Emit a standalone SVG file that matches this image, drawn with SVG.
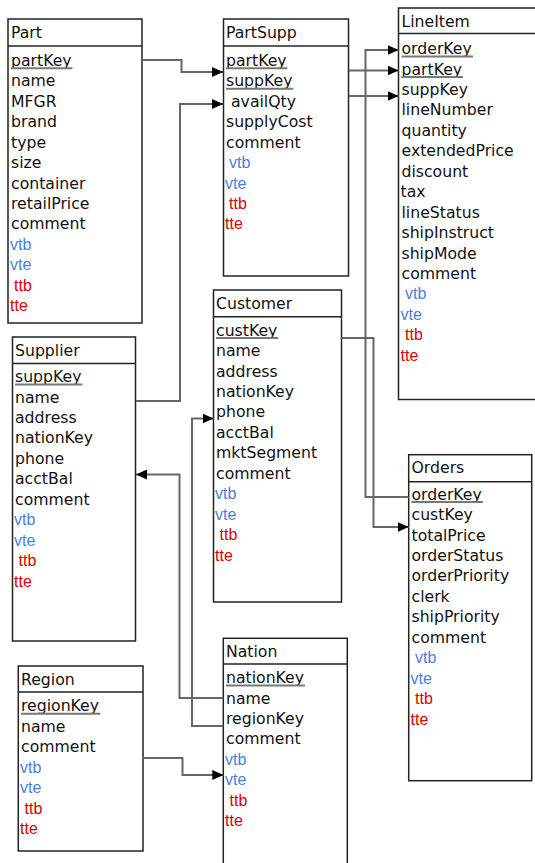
<svg xmlns="http://www.w3.org/2000/svg" width="535" height="863" viewBox="0 0 535 863">
<style>
.box{fill:#fff;stroke:#222;stroke-width:1.5}
.div{stroke:#222;stroke-width:1.5}
.t{font-family:"DejaVu Sans",Verdana,sans-serif;font-size:15.7px;fill:#111}
.b{font-family:"Liberation Sans",Arial,sans-serif;font-size:16px;fill:#4a7fdc}
.r{font-family:"Liberation Sans",Arial,sans-serif;font-size:16px;fill:#e00000}
.u{stroke:#777;stroke-width:2}
.c{fill:none;stroke:#666;stroke-width:2}
</style>
<defs>
<marker id="arr" viewBox="0 0 11 10" markerWidth="11" markerHeight="10" refX="11" refY="5" markerUnits="userSpaceOnUse" orient="auto">
<path d="M0,0 L11,5 L0,10 z" fill="#000"/>
</marker>
</defs>
<rect width="535" height="863" fill="#fff"/>

<g id="Part">
<rect class="box" x="8" y="19" width="134" height="304"/>
<line class="div" x1="8" y1="46" x2="142" y2="46"/>
<text class="t" x="11" y="38">Part</text>
<text class="t" x="11" y="65.8">partKey</text>
<line class="u" x1="11" y1="68.3" x2="72.4" y2="68.3"/>
<text class="t" x="11" y="86.3">name</text>
<text class="t" x="11" y="106.7">MFGR</text>
<text class="t" x="11" y="127.2">brand</text>
<text class="t" x="11" y="147.6">type</text>
<text class="t" x="11" y="168.1">size</text>
<text class="t" x="11" y="188.5">container</text>
<text class="t" x="11" y="209">retailPrice</text>
<text class="t" x="11" y="229.4">comment</text>
<text class="b" x="10" y="249.9">vtb</text>
<text class="b" x="10" y="270.3">vte</text>
<text class="r" x="14" y="290.8">ttb</text>
<text class="r" x="10" y="311.2">tte</text>
</g>

<g id="PartSupp">
<rect class="box" x="223.5" y="19" width="125" height="257"/>
<line class="div" x1="223.5" y1="46" x2="348.5" y2="46"/>
<text class="t" x="226" y="38">PartSupp</text>
<text class="t" x="226" y="65.8">partKey</text>
<line class="u" x1="226" y1="68.3" x2="287.4" y2="68.3"/>
<text class="t" x="226" y="86.3">suppKey</text>
<line class="u" x1="226" y1="88.8" x2="293.3" y2="88.8"/>
<text class="t" x="231" y="106.7">availQty</text>
<text class="t" x="226" y="127.2">supplyCost</text>
<text class="t" x="226" y="147.6">comment</text>
<text class="b" x="229" y="168.1">vtb</text>
<text class="b" x="225" y="188.5">vte</text>
<text class="r" x="229" y="209">ttb</text>
<text class="r" x="225" y="229.4">tte</text>
</g>

<g id="LineItem">
<rect class="box" x="398.5" y="8" width="145" height="391.5"/>
<line class="div" x1="398.5" y1="33.5" x2="543.5" y2="33.5"/>
<text class="t" x="401.5" y="27">LineItem</text>
<text class="t" x="401.5" y="54">orderKey</text>
<line class="u" x1="401.5" y1="56.5" x2="472.9" y2="56.5"/>
<text class="t" x="401.5" y="74.5">partKey</text>
<line class="u" x1="401.5" y1="77" x2="462.9" y2="77"/>
<text class="t" x="401.5" y="94.9">suppKey</text>
<text class="t" x="401.5" y="115.4">lineNumber</text>
<text class="t" x="401.5" y="135.8">quantity</text>
<text class="t" x="401.5" y="156.3">extendedPrice</text>
<text class="t" x="401.5" y="176.7">discount</text>
<text class="t" x="400.5" y="197.2">tax</text>
<text class="t" x="401.5" y="217.6">lineStatus</text>
<text class="t" x="401.5" y="238.1">shipInstruct</text>
<text class="t" x="401.5" y="258.5">shipMode</text>
<text class="t" x="401.5" y="279">comment</text>
<text class="b" x="405" y="299.4">vtb</text>
<text class="b" x="400.5" y="319.9">vte</text>
<text class="r" x="405" y="340.3">ttb</text>
<text class="r" x="400.5" y="360.8">tte</text>
</g>

<g id="Supplier">
<rect class="box" x="12.5" y="337" width="123" height="304"/>
<line class="div" x1="12.5" y1="363.5" x2="135.5" y2="363.5"/>
<text class="t" x="15" y="355.5">Supplier</text>
<text class="t" x="15" y="382">suppKey</text>
<line class="u" x1="15" y1="384.5" x2="82.3" y2="384.5"/>
<text class="t" x="15" y="402.5">name</text>
<text class="t" x="15" y="422.9">address</text>
<text class="t" x="15" y="443.4">nationKey</text>
<text class="t" x="15" y="463.8">phone</text>
<text class="t" x="15" y="484.3">acctBal</text>
<text class="t" x="15" y="504.7">comment</text>
<text class="b" x="14" y="525.2">vtb</text>
<text class="b" x="14" y="545.6">vte</text>
<text class="r" x="18.5" y="566.1">ttb</text>
<text class="r" x="14" y="586.5">tte</text>
</g>

<g id="Customer">
<rect class="box" x="213.5" y="290" width="128" height="312"/>
<line class="div" x1="213.5" y1="316.7" x2="341.5" y2="316.7"/>
<text class="t" x="216" y="308.5">Customer</text>
<text class="t" x="216" y="335.6">custKey</text>
<line class="u" x1="216" y1="338.1" x2="278.2" y2="338.1"/>
<text class="t" x="216" y="356.1">name</text>
<text class="t" x="216" y="376.5">address</text>
<text class="t" x="216" y="397">nationKey</text>
<text class="t" x="216" y="417.4">phone</text>
<text class="t" x="216" y="437.9">acctBal</text>
<text class="t" x="216" y="458.3">mktSegment</text>
<text class="t" x="216" y="478.8">comment</text>
<text class="b" x="215" y="499.2">vtb</text>
<text class="b" x="215" y="519.7">vte</text>
<text class="r" x="219.5" y="540.1">ttb</text>
<text class="r" x="215" y="560.6">tte</text>
</g>

<g id="Orders">
<rect class="box" x="408.7" y="454.7" width="123" height="326"/>
<line class="div" x1="408.7" y1="481.7" x2="531.7" y2="481.7"/>
<text class="t" x="411.5" y="473">Orders</text>
<text class="t" x="411.5" y="499.6">orderKey</text>
<line class="u" x1="411.5" y1="502.1" x2="482.9" y2="502.1"/>
<text class="t" x="411.5" y="520.1">custKey</text>
<text class="t" x="411.5" y="540.5">totalPrice</text>
<text class="t" x="411.5" y="561">orderStatus</text>
<text class="t" x="411.5" y="581.4">orderPriority</text>
<text class="t" x="411.5" y="601.9">clerk</text>
<text class="t" x="411.5" y="622.3">shipPriority</text>
<text class="t" x="411.5" y="642.8">comment</text>
<text class="b" x="415" y="663.2">vtb</text>
<text class="b" x="410.5" y="683.7">vte</text>
<text class="r" x="415" y="704.1">ttb</text>
<text class="r" x="410.5" y="724.6">tte</text>
</g>

<g id="Region">
<rect class="box" x="18.3" y="666" width="124.7" height="185"/>
<line class="div" x1="18.3" y1="692" x2="143" y2="692"/>
<text class="t" x="21" y="684.5">Region</text>
<text class="t" x="21" y="711.3">regionKey</text>
<line class="u" x1="21" y1="713.8" x2="100.3" y2="713.8"/>
<text class="t" x="21" y="731.8">name</text>
<text class="t" x="21" y="752.2">comment</text>
<text class="b" x="20" y="772.7">vtb</text>
<text class="b" x="20" y="793.1">vte</text>
<text class="r" x="24.5" y="813.6">ttb</text>
<text class="r" x="20" y="834">tte</text>
</g>

<g id="Nation">
<rect class="box" x="223.3" y="638.3" width="124" height="240"/>
<line class="div" x1="223.3" y1="664" x2="347.3" y2="664"/>
<text class="t" x="226" y="657">Nation</text>
<text class="t" x="226" y="683">nationKey</text>
<line class="u" x1="226" y1="685.5" x2="304.9" y2="685.5"/>
<text class="t" x="226" y="703.5">name</text>
<text class="t" x="226" y="723.9">regionKey</text>
<text class="t" x="226" y="744.4">comment</text>
<text class="b" x="225" y="764.8">vtb</text>
<text class="b" x="225" y="785.3">vte</text>
<text class="r" x="229.5" y="805.7">ttb</text>
<text class="r" x="225" y="826.2">tte</text>
</g>

<g id="connectors">
<path class="c" d="M142,60 H181.5 V72 H223" marker-end="url(#arr)"/>
<path class="c" d="M136,401 H180 V104 H223" marker-end="url(#arr)"/>
<path class="c" d="M349,70.5 H398.5" marker-end="url(#arr)"/>
<path class="c" d="M349,96 H398.5" marker-end="url(#arr)"/>
<path class="c" d="M408.7,497 H365.5 V50 H398.5" marker-end="url(#arr)"/>
<path class="c" d="M341.5,338 H373.5 V527 H408.7" marker-end="url(#arr)"/>
<path class="c" d="M223.3,698 H179.5 V474.5 H136" marker-end="url(#arr)"/>
<path class="c" d="M223.3,726 H192 V418.5 H213.5" marker-end="url(#arr)"/>
<path class="c" d="M143,758 H182.5 V775 H223.3" marker-end="url(#arr)"/>
</g>
</svg>
